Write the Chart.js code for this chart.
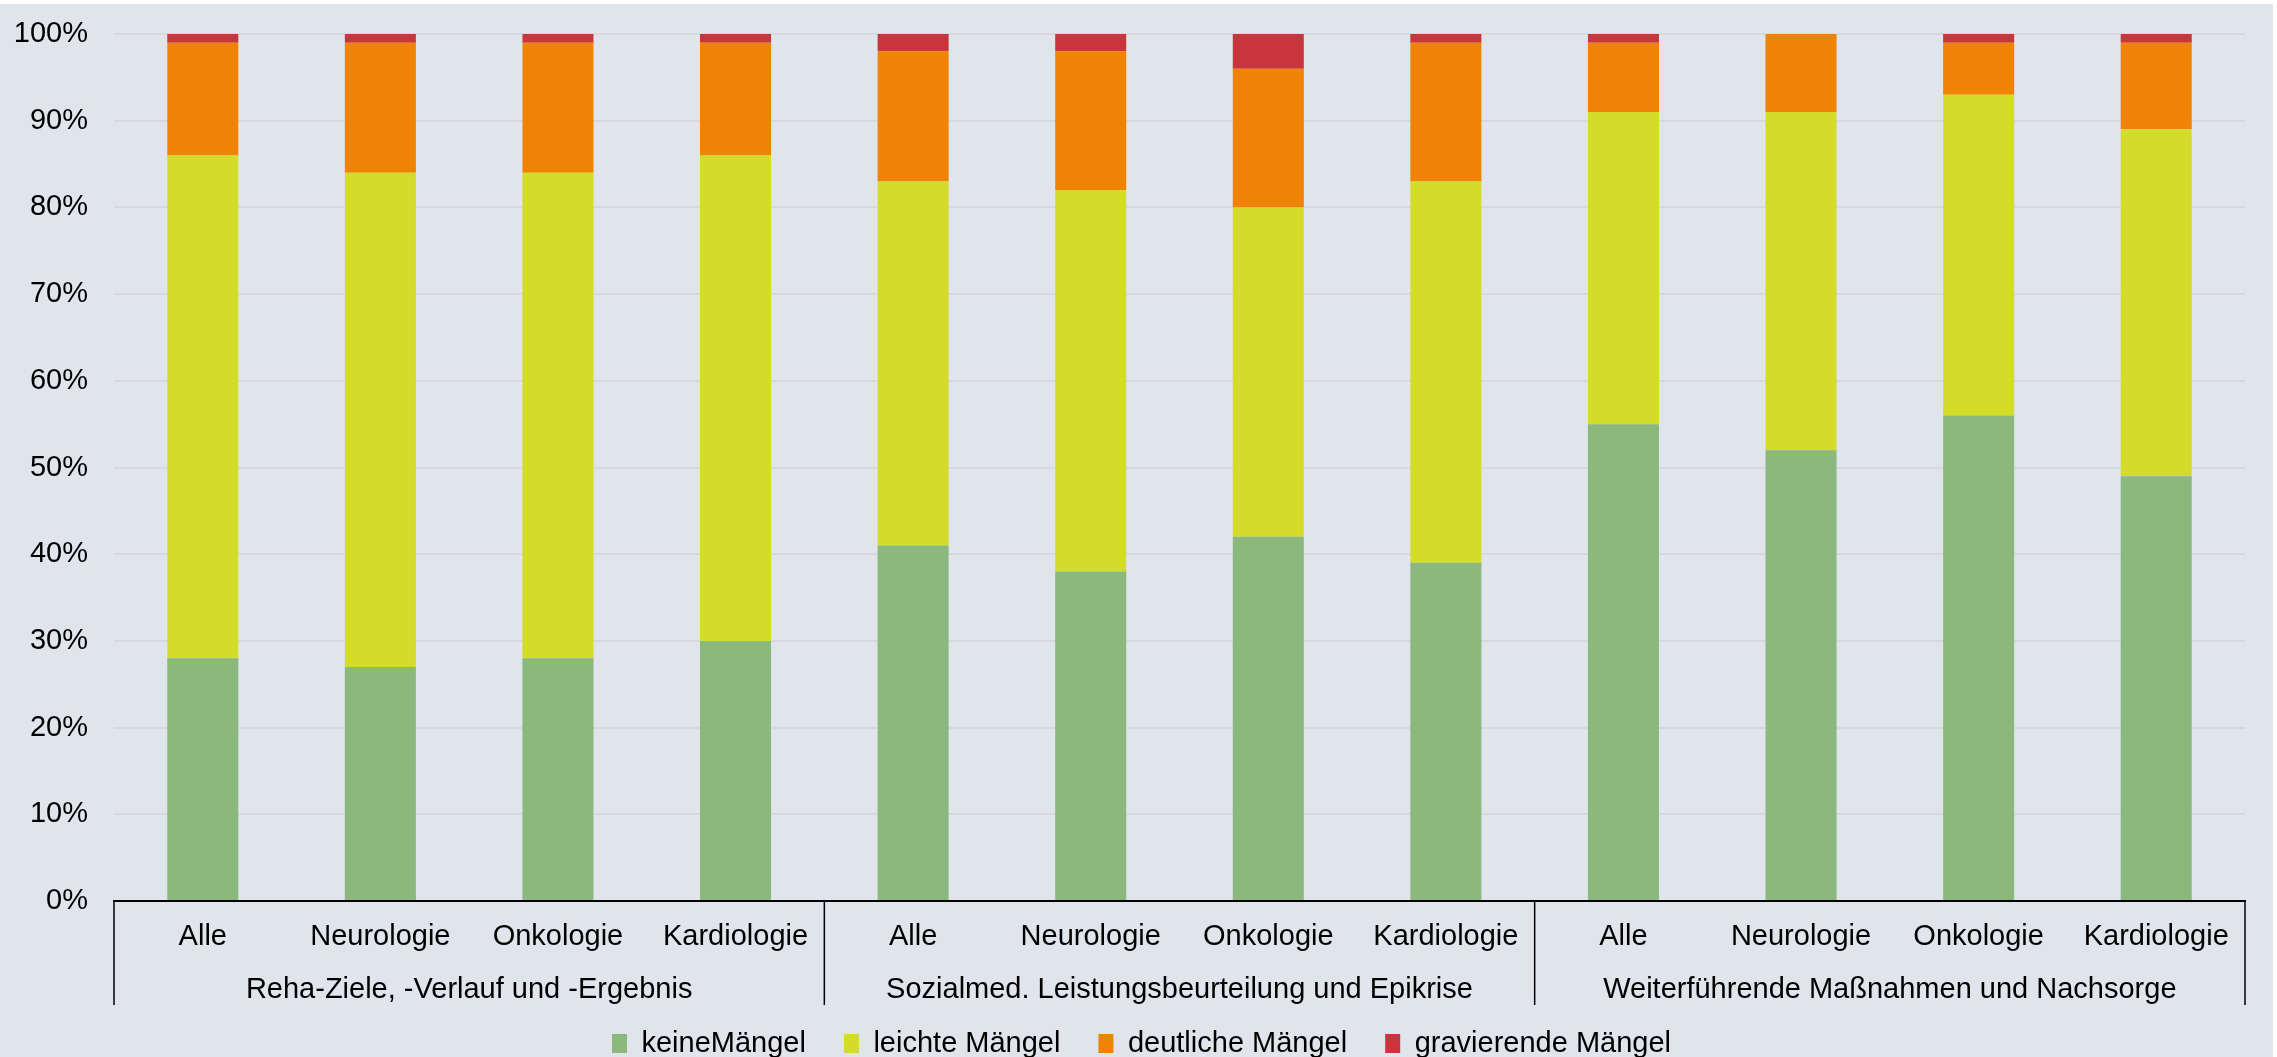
<!DOCTYPE html>
<html>
<head>
<meta charset="utf-8">
<script src="https://cdn.jsdelivr.net/npm/chart.js@4.4.1/dist/chart.umd.min.js"></script>
<style>
  body { margin: 0; background: #fff; }
  #wrap { position: absolute; left: 0; top: 4px; width: 2273px; height: 1053px; background: #E0E5EC; }
</style>
</head>
<body>
<div id="wrap"><canvas id="myChart" width="2273" height="1053"></canvas></div>
<script>
// categories (x axis) and groups
const labels = ['Alle', 'Neurologie', 'Onkologie', 'Kardiologie',
                'Alle', 'Neurologie', 'Onkologie', 'Kardiologie',
                'Alle', 'Neurologie', 'Onkologie', 'Kardiologie'];
const groups = ['Reha-Ziele, -Verlauf und -Ergebnis',
                'Sozialmed. Leistungsbeurteilung und Epikrise',
                'Weiterführende Maßnahmen und Nachsorge'];
const groupSize = 4;

// series values in %
const keine       = [28, 27, 28, 30, 41, 38, 42, 39, 55, 52, 56, 49];
const leichte     = [58, 57, 56, 56, 42, 44, 38, 44, 36, 39, 37, 40];
const deutliche   = [13, 15, 15, 13, 15, 16, 16, 16,  8,  9,  6, 10];
const gravierende = [ 1,  1,  1,  1,  2,  2,  4,  1,  1,  0,  1,  1];

const yTicks = [0, 10, 20, 30, 40, 50, 60, 70, 80, 90, 100];

const FONT = "Arial, 'Liberation Sans', sans-serif";
Chart.defaults.font.family = FONT;
Chart.defaults.font.size = 29;
Chart.defaults.color = '#000';

// y-achse bis zum linken rand, damit "100%" nicht abgeschnitten wird
const yAxisToEdge = {
  id: 'yAxisToEdge',
  afterLayout(chart) {
    const y = chart.scales.y;
    y.left = 0;
    y.width = y.right;
  }
};

// gruppen-beschriftung und trennlinien unter der x-achse
const groupAxis = {
  id: 'groupAxis',
  afterDraw(chart) {
    const ctx = chart.ctx;
    const x = chart.scales.x;
    const area = chart.chartArea;
    const bottom = area.bottom + 104;
    const edges = [x.left];
    for (let g = 1; g < groups.length; g++) {
      const i = g * groupSize;
      edges.push((x.getPixelForValue(i - 1) + x.getPixelForValue(i)) / 2);
    }
    edges.push(x.right);

    ctx.save();
    ctx.strokeStyle = '#000';
    ctx.lineWidth = 1.5;
    edges.forEach(e => {
      ctx.beginPath();
      ctx.moveTo(e, area.bottom);
      ctx.lineTo(e, bottom);
      ctx.stroke();
    });
    ctx.fillStyle = '#000';
    ctx.font = '29px ' + FONT;
    ctx.textAlign = 'center';
    ctx.textBaseline = 'alphabetic';
    groups.forEach((name, g) => {
      const first = x.getPixelForValue(g * groupSize);
      const last = x.getPixelForValue(g * groupSize + groupSize - 1);
      ctx.fillText(name, (first + last) / 2, area.bottom + 97);
    });
    ctx.restore();
  }
};

const data = {
  labels: labels,
  datasets: [
    { label: 'keineMängel', data: keine, backgroundColor: '#8BB87C' },
    { label: 'leichte Mängel', data: leichte, backgroundColor: '#D4DC2B' },
    { label: 'deutliche Mängel', data: deutliche, backgroundColor: '#EF8305' },
    { label: 'gravierende Mängel', data: gravierende, backgroundColor: '#C8353C' }
  ]
};

const config = {
  type: 'bar',
  data: data,
  options: {
    responsive: false,
    animation: false,
    categoryPercentage: 0.5,
    barPercentage: 0.8,
    layout: { padding: { top: 30, right: 28, left: 38, bottom: -11 } },
    plugins: {
      tooltip: { enabled: false },
      legend: {
        position: 'bottom',
        labels: { boxWidth: 15, boxHeight: 19, padding: 38, color: '#000', font: { size: 29 } }
      }
    },
    scales: {
      x: {
        stacked: true,
        grid: { display: false, drawTicks: false },
        border: { display: true, color: '#000', width: 2 },
        ticks: { padding: 19, maxRotation: 0, autoSkip: false, color: '#000' },
        afterFit(scale) { scale.height = 90; }
      },
      y: {
        stacked: true,
        min: 0,
        max: 100,
        afterBuildTicks(scale) { scale.ticks = yTicks.map(v => ({ value: v })); },
        ticks: { padding: 26, color: '#000', callback: v => v + '%' },
        grid: { color: '#D6D8DB', lineWidth: 2, drawTicks: false },
        border: { display: false },
        afterFit(scale) {
          scale.width = 76;
          scale.paddingTop = 0;
          scale.paddingBottom = 0;
        }
      }
    }
  },
  plugins: [yAxisToEdge, groupAxis]
};

const myChart = new Chart(document.getElementById('myChart'), config);
</script>
</body>
</html>
